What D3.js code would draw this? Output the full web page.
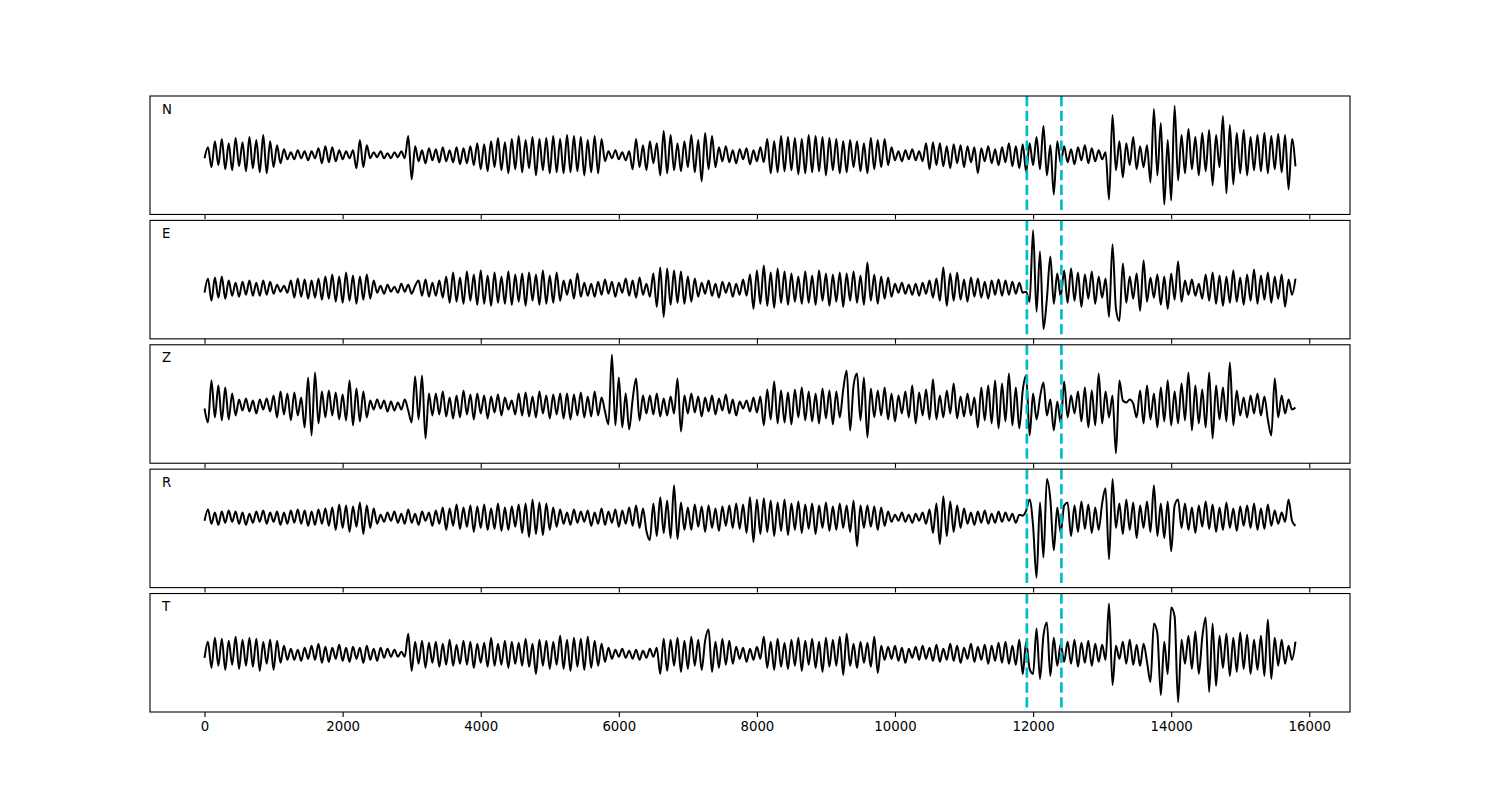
<!DOCTYPE html>
<html>
<head>
<meta charset="utf-8">
<script src="https://cdnjs.cloudflare.com/ajax/libs/d3/7.8.5/d3.min.js"></script>
<style>
html,body{margin:0;padding:0;background:#fff;}
svg text{font-family:"DejaVu Sans",sans-serif;}
</style>
</head>
<body>
<svg id="chart" width="1500" height="800"></svg>
<script>
// ---- data ----
const channels = ["N", "E", "Z", "R", "T"];
const sampleStep = 50;            // time units between successive readings
const pickTimes = [11910, 12410]; // dashed markers
const xTicks = [0, 2000, 4000, 6000, 8000, 10000, 12000, 14000, 16000];

const traceN = [-3,8,-12,14,-10,16,-14,12,-15,17,-11,13,-16,18,-13,15,-17,20,-18,14,-12,10,-8,6,
-4,3,-4,5,-3,4,-5,4,-3,
7,-8,9,-7,8,-6,5,
-4,4,-3,5,
-13,15,-12,10,
-3,3,-2,4,-3,2,-3,3,-2,4,-3,
19,-24,
9,-6,5,-8,7,-5,6,-7,8,-6,5,-7,8,-9,7,-8,9,-10,
12,-14,11,-16,14,-12,17,-15,13,-18,16,-14,19,-17,15,-13,18,-20,16,-15,17,-18,19,-17,16,
-18,20,-17,19,-16,18,-20,15,-17,19,-18,16,-6,
4,-3,5,-4,3,-5,4,
-14,16,-12,10,-15,14,-8,12,-20,24,-18,20,-15,12,-16,14,-12,20,-17,15,-26,22,-14,19,-12,
8,-6,9,-7,5,-8,6,-4,7,-9,5,-6,8,-7,
16,-18,14,-17,19,-16,18,-15,17,-19,16,-18,20,-17,19,-16,18,-20,17,-15,16,-18,14,-17,15,
-12,14,-16,12,-18,17,-14,15,-12,16,-10,8,
-5,4,-6,5,-4,6,-5,4,-6,12,-14,
13,-10,12,-11,9,-13,11,-8,10,-12,9,-7,8,-18,7,-6,9,-8,6,-10,8,-7,12,-11,9,-13,11,
-17,12,-10,18,-14,29,-20,10,-39,14,-8,
9,-7,6,-9,8,-5,10,-8,7,-6,5,-4,3,
-44,40,-15,
14,-22,12,-10,18,-14,9,-12,10,-27,
46,-20,32,-49,15,-45,49,-25,20,-18,
26,-14,18,-20,22,-16,25,-30,20,-12,39,-38,30,-29,22,-18,25,-20,18,-15,20,-16,22,-18,19,-14,21,-17,20,-34,16,-11];

const traceE = [-4,10,-12,11,-9,12,-10,8,-7,6,-8,7,-6,8,-7,6,-7,8,-6,7,-5,4,-3,
3,-4,
8,-9,10,-8,9,-10,8,-9,10,-11,12,-10,
14,-13,12,-14,16,-12,13,-15,12,-11,14,-10,8,
-4,3,-5,4,-3,2,-4,5,-3,4,-5,3,
8,-7,9,-8,6,-7,8,-9,
12,-14,16,-13,11,-15,17,-12,14,-16,18,-15,13,-17,16,-14,12,-15,17,-16,14,-13,15,-17,16,-12,14,-16,18,-15,13,-14,16,-12,
8,-6,9,-10,15,-8,6,-7,5,-8,7,-6,9,-5,7,-8,6,-4,10,-7,8,-9,11,-6,5,-8,
15,-18,21,-28,20,-16,18,-14,17,-15,12,-13,10,-8,
6,-5,8,-7,5,-9,7,-4,6,-8,5,-6,9,-7,
14,-20,18,-15,23,-17,16,-19,20,-14,17,-16,15,-13,12,
-15,17,-14,13,-16,18,-12,15,-17,14,-13,16,-18,15,-12,17,-14,13,-16,26,-12,14,-15,12,-10,11,-8,
5,-4,6,-5,4,-6,5,-7,6,-5,8,
-9,10,-12,21,-17,15,-12,16,-11,9,-13,11,-8,10,-9,7,-10,8,-6,9,-7,8,-6,7,-5,6,-4,
-3,-13,58,-23,37,-40,-10,32,-15,15,-8,
18,-14,20,-12,16,-18,14,-10,17,-15,12,-9,10,
-28,44,-20,-32,25,
-14,12,-10,15,-22,28,-13,11,-9,14,-16,12,-20,15,-11,27,-13,8,-6,9,-7,5,-10,14,-12,16,-15,13,-17,12,-14,18,-13,11,-16,14,-12,19,-15,13,-11,16,-14,12,-10,14,-18,9,-6,10];

const traceZ = [-3,-17,25,-12,20,-15,18,-14,12,-10,
6,-5,7,-6,5,-8,6,-4,7,-6,
10,-12,14,-9,12,-15,13,-10,8,
-22,28,-30,33,
-18,14,-12,15,-10,13,-14,11,
-15,25,-20,17,-16,14,-12,
5,-4,6,-3,5,-6,4,-5,3,-4,6,-5,
-17,29,-14,30,-33,12,
-10,12,-9,14,-11,8,-13,10,-12,15,-9,11,-14,12,-8,10,-13,9,-7,11,-10,8,
-4,5,
-9,12,-10,13,-11,9,-12,14,-8,10,-13,11,-9,12,
-13,12,-14,11,-10,13,-12,9,-11,14,-10,8,-6,-19,
51,-20,28,-22,12,-24,6,27,-15,10,
-8,10,-9,12,-11,7,-10,9,-8,
27,-26,
10,-8,12,-7,9,-11,8,-6,10,-9,7,-5,11,-8,6,-10,4,-3,5,-6,8,-7,9,
-20,16,-14,24,-18,15,-17,13,-19,16,-12,18,-15,14,-16,12,-18,17,-13,15,-19,14,-12,16,
35,-25,20,32,-15,28,-32,17,
-12,15,-10,18,-14,12,-16,10,-8,14,-12,20,-18,13,-10,16,-14,
26,-14,10,-12,15,-8,22,-13,9,-11,12,-10,8,
-22,18,-15,20,-18,25,-23,22,-16,32,-20,18,-23,15,
30,-30,12,-14,8,23,-10,6,-25,4,-18,
24,-12,10,-8,14,-16,18,-22,15,-20,32,-18,14,-12,10,
-48,25,
5,3,6,2,
-12,15,-18,20,-14,12,-22,18,-16,25,-20,14,-18,22,-15,33,-25,20,-18,16,-22,33,-33,20,-14,18,-16,43,-20,15,-10,8,-12,10,-8,12,-10,9,-14,-30,27,-12,10,-8,6,-4,-2];

const traceR = [-3,8,-6,5,-7,6,-5,7,-4,6,-6,5,-7,4,-5,6,-4,7,-6,5,-4,6,-7,5,-6,7,-5,8,-6,7,-8,6,-7,8,-6,9,-8,10,
-12,13,-10,12,-14,11,-9,15,-16,12,-10,9,-6,
3,-4,5,-3,6,-5,4,-6,8,-5,4,-7,6,-3,5,-8,7,-6,
10,-12,9,-8,13,-11,10,-9,12,-14,11,-10,13,-12,9,-11,14,-13,10,-12,11,-9,13,-15,14,
-19,18,-16,15,-17,14,-12,10,-9,8,
-6,5,-7,8,-5,6,-4,7,-8,5,-6,9,-7,6,-5,8,-9,7,-6,10,-8,12,-10,9,-13,
-22,14,-18,20,-15,17,-20,32,-21,15,-12,
10,-12,13,-9,11,-14,12,-10,9,-13,11,-8,12,-10,14,-11,13,
-15,20,-24,18,-16,19,-14,17,-18,15,-13,18,-17,14,-12,16,-15,13,-11,14,-16,12,-10,15,-13,11,-12,14,-10,12,-14,17,-28,12,
-10,12,-9,11,-12,10,-8,6,
-4,3,-3,5,-4,3,-5,4,-3,5,-6,8,
-15,14,-26,21,-18,16,-14,12,-10,9,
-6,5,-7,6,-5,7,-6,4,-5,6,-4,5,-3,4,-5,3,2,
7,18,-8,-59,15,-39,38,18,-32,10,-15,12,
15,-18,12,-14,16,-11,13,-15,10,-12,14,29,-41,
38,-10,
14,-16,18,-12,15,-20,12,-10,16,-14,32,-18,14,-20,16,-33,12,18,-10,14,-12,10,-15,12,-9,16,-11,13,-14,10,-12,15,-10,9,-13,11,-8,12,-10,14,-12,9,-11,13,-8,7,-6,5,-4,18,-3,-8];

const traceT = [-4,12,-14,16,-12,15,-16,13,-11,17,-15,14,-12,16,-13,15,-17,12,-10,14,-16,13,-9,8,-6,
5,-6,4,-7,6,-5,8,-6,10,-9,7,-8,6,-5,9,-7,6,-8,7,-5,6,-9,8,-6,5,-7,6,-4,5,-3,4,-3,
2,-3,20,-17,
12,-10,13,-14,11,-9,12,-13,10,-11,14,-12,9,-10,13,-11,12,-14,10,-9,11,-13,16,-12,10,-11,13,-14,12,-10,11,-12,15,-13,10,-20,14,-12,13,-15,12,-11,
18,-15,14,-17,16,-13,15,-16,17,-14,13,-12,10,-8,6,-5,
4,-3,5,-4,3,-5,4,-6,3,-4,5,-3,6,-20,
15,-17,14,-12,16,-18,13,-15,17,-12,14,-16,13,24,-18,12,-14,15,-11,13,-10,
7,-5,6,-8,5,-6,7,-5,
17,-14,12,-16,15,-13,11,-15,14,-12,16,-17,13,-11,15,-14,12,-18,16,-13,14,-12,17,-21,20,
-12,10,-14,12,-9,11,-13,17,-19,8,
-6,7,-5,8,-7,6,-9,5,-4,7,-6,8,-5,6,-7,9,-8,5,-6,10,-7,8,-9,6,-5,10,-8,7,-6,9,-10,8,-7,11,-9,12,-10,8,-11,
14,-20,12,-15,-20,25,-25,18,31,-22,16,-12,10,-8,
12,-10,14,-13,11,-9,13,-12,10,-8,9,-6,
50,-31,8,-5,
12,-10,14,-11,9,-12,10,-8,
-28,30,20,-41,12,-20,46,37,-48,14,-10,
18,-15,22,-20,16,36,-38,30,-32,18,-14,20,-22,16,-18,21,-15,19,-20,14,-16,18,-22,34,-25,16,-12,14,-10,8,-6,12];

const traces = [traceN, traceE, traceZ, traceR, traceT];

(function draw() {
  // ---- layout ----
  const mLeft = 150, mRight = 1350, mTop = 96, mBottom = 712;
  const nP = traces.length;
  const hspace = 0.05;
  const panelH = (mBottom - mTop) / (nP + (nP - 1) * hspace);
  const gap = panelH * hspace;

  const svg = d3.select("#chart");

  const tMax = (traceN.length - 1) * sampleStep;
  const pad = tMax * 0.05;
  const x = d3.scaleLinear().domain([-pad, tMax + pad]).range([mLeft, mRight]);

  traces.forEach((vals, k) => {
    const y0 = mTop + k * (panelH + gap);
    const ext = d3.extent(vals);
    const r = ext[1] - ext[0];
    const y = d3.scaleLinear()
      .domain([ext[0] - 0.1 * r, ext[1] + 0.1 * r])
      .range([y0 + panelH, y0]);

    const g = svg.append("g");

    const line = d3.line()
      .x((d, i) => x(i * sampleStep))
      .y(d => y(d))
      .curve(d3.curveMonotoneX);

    g.append("path")
      .datum(vals)
      .attr("d", line)
      .attr("fill", "none")
      .attr("stroke", "#000")
      .attr("stroke-width", 2)
      .attr("stroke-linejoin", "round");

    g.selectAll("line.pick")
      .data(pickTimes)
      .enter().append("line")
      .attr("class", "pick")
      .attr("x1", d => x(d)).attr("x2", d => x(d))
      .attr("y1", y0).attr("y2", y0 + panelH)
      .attr("stroke", "#00bfbf")
      .attr("stroke-width", 2.7)
      .attr("stroke-dasharray", "10.3,4.5");

    g.append("rect")
      .attr("x", mLeft).attr("y", y0)
      .attr("width", mRight - mLeft).attr("height", panelH)
      .attr("fill", "none").attr("stroke", "#000").attr("stroke-width", 1.1);

    const axis = d3.axisBottom(x).tickValues(xTicks).tickFormat(d3.format("d"))
      .tickSizeOuter(0).tickSizeInner(4.9).tickPadding(4.5);
    if (k < nP - 1) axis.tickFormat("");
    const ag = g.append("g")
      .attr("transform", `translate(0,${y0 + panelH})`)
      .call(axis);
    ag.select(".domain").remove();
    ag.selectAll(".tick line").attr("stroke", "#000").attr("stroke-width", 1.1);
    ag.selectAll(".tick text").attr("font-size", "13.3px").attr("fill", "#000")
      .attr("font-family", "DejaVu Sans, sans-serif");

    g.append("text")
      .attr("x", mLeft + 12)
      .attr("y", y0 + 17.5)
      .attr("font-size", "13.3px")
      .attr("fill", "#000")
      .text(channels[k]);
  });
})();
</script>
</body>
</html>
